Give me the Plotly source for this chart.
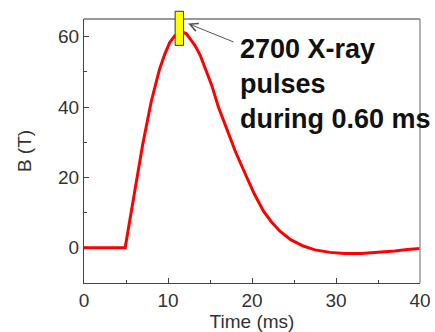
import plotly.graph_objects as go

# ---- data ----
time_ms = [0, 4.9, 6.0, 7.0, 8.0, 8.5, 9.0, 9.6, 10.2, 10.8, 11.4, 11.8, 12.2, 12.6,
           13.2, 13.8, 14.5, 15.2, 16.0, 17.0, 18.0, 19.4, 20.3, 21.35, 22.3, 23.3,
           24.6, 26.1, 27.5, 29.3, 31.0, 33.0, 35.0, 37.0, 38.5, 40.0]
field_T = [0, 0, 15.5, 29.5, 41.5, 46.5, 50.8, 54.9, 58.3, 60.2, 61.1, 61.2, 60.8, 59.5,
           57.5, 54.9, 50.8, 46.2, 40.0, 33.5, 27.5, 19.9, 15.2, 10.5, 7.4, 4.8,
           2.3, 0.5, -0.6, -1.3, -1.6, -1.6, -1.3, -0.9, -0.5, -0.2]

x_ticks = [0, 10, 20, 30, 40]
y_ticks = [0, 20, 40, 60]
x_range = [0, 40]
y_range = [-10, 65]

# X-ray window marker (time span, field span)
pulse_t = [10.85, 11.85]
pulse_b = [57.5, 67.2]

note_text = "2700 X-ray<br>pulses<br>during 0.60 ms"

FONT = "Liberation Sans, Arial, sans-serif"

fig = go.Figure()
fig.add_trace(go.Scatter(x=time_ms, y=field_T, mode="lines",
                         line=dict(color="#ff0000", width=3), showlegend=False))

def xdom(v):
    return (v - x_range[0]) / (x_range[1] - x_range[0])

def ydom(v):
    return (v - y_range[0]) / (y_range[1] - y_range[0])

shapes = [
    # top and right frame (gray)
    dict(type="line", xref="paper", yref="paper", x0=0, x1=1, y0=1, y1=1,
         line=dict(color="#999999", width=2)),
    dict(type="line", xref="paper", yref="paper", x0=1, x1=1, y0=0, y1=1,
         line=dict(color="#999999", width=1.5)),
    # yellow pulse marker
    dict(type="rect", xref="x domain", yref="y domain",
         x0=xdom(pulse_t[0]), x1=xdom(pulse_t[1]),
         y0=ydom(pulse_b[0]), y1=ydom(pulse_b[1]),
         fillcolor="#ffff00", line=dict(color="#333333", width=1), layer="above"),
]

annotations = [
    dict(x=12.4, y=63.7, xref="x", yref="y", ax=17.98, ay=58.3, axref="x", ayref="y",
         text="", showarrow=True, arrowhead=5, arrowsize=1.6, arrowwidth=1,
         arrowcolor="#555555"),
    dict(x=18.33, y=46.4, xref="x", yref="y", text="<b>" + note_text + "</b>",
         showarrow=False, xanchor="left", yanchor="middle", align="left",
         font=dict(family=FONT, size=27, color="#111111")),
]

fig.update_layout(
    width=435, height=332,
    margin=dict(l=84, r=15, t=19, b=49),
    paper_bgcolor="white", plot_bgcolor="white",
    shapes=shapes, annotations=annotations,
    font=dict(family=FONT, size=19, color="#333333"),
    xaxis=dict(range=x_range, tickvals=x_ticks, ticks="inside", ticklen=5,
               tickcolor="#444444", showgrid=False, zeroline=False, automargin=False,
               showline=True, linecolor="#444444", linewidth=1,
               minor=dict(ticks="inside", ticklen=3, dtick=5, tickcolor="#444444"),
               title=dict(text="Time (ms)", standoff=8,
                          font=dict(family=FONT, size=19, color="#333333")),
               tickfont=dict(family=FONT, size=19, color="#333333")),
    yaxis=dict(range=y_range, tickvals=y_ticks, ticks="inside", ticklen=5,
               tickcolor="#444444", showgrid=False, zeroline=False, automargin=False,
               showline=True, linecolor="#444444", linewidth=1,
               minor=dict(ticks="inside", ticklen=3, dtick=10, tickcolor="#444444"),
               title=dict(text="B (T)", standoff=21,
                          font=dict(family=FONT, size=19, color="#333333")),
               tickfont=dict(family=FONT, size=19, color="#333333")),
)

fig.write_html("out.html")
